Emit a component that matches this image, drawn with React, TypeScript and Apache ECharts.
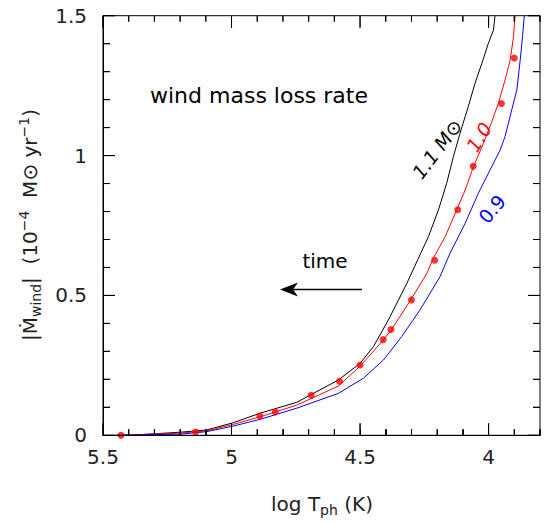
import React, { useEffect, useRef } from "react";
import * as echarts from "echarts";

// log T_ph (K) and |Mdot_wind| (1e-4 Msun/yr)
const blackX = [5.45, 5.38, 5.2, 5.097, 4.993, 4.889, 4.746, 4.584, 4.5, 4.448, 4.39, 4.318, 4.273, 4.234, 4.195, 4.163, 4.137, 4.111, 4.079, 4.053, 4.026, 4.001, 3.981, 3.975];
const blackY = [0, 0.001, 0.011, 0.019, 0.045, 0.079, 0.118, 0.198, 0.257, 0.317, 0.412, 0.543, 0.633, 0.71, 0.806, 0.901, 0.996, 1.08, 1.175, 1.258, 1.33, 1.401, 1.449, 1.5];

const redX = [5.43, 5.2, 5.097, 4.993, 4.889, 4.746, 4.584, 4.496, 4.409, 4.377, 4.303, 4.24, 4.215, 4.169, 4.124, 4.091, 4.059, 4.02, 3.99, 3.962, 3.936, 3.916, 3.903, 3.897];
const redY = [0, 0.008, 0.016, 0.039, 0.066, 0.108, 0.176, 0.251, 0.341, 0.379, 0.484, 0.579, 0.633, 0.71, 0.806, 0.877, 0.96, 1.044, 1.115, 1.187, 1.27, 1.342, 1.425, 1.5];

const blueX = [5.45, 5.2, 5.097, 4.993, 4.889, 4.746, 4.584, 4.487, 4.409, 4.338, 4.267, 4.189, 4.15, 4.091, 4.04, 3.994, 3.955, 3.936, 3.91, 3.89, 3.877, 3.868, 3.861];
const blueY = [0, 0.004, 0.013, 0.033, 0.057, 0.097, 0.15, 0.204, 0.269, 0.353, 0.448, 0.567, 0.651, 0.758, 0.865, 0.949, 1.02, 1.068, 1.163, 1.235, 1.342, 1.425, 1.5];

const dotX = [5.43, 5.14, 4.89, 4.83, 4.69, 4.58, 4.5, 4.41, 4.38, 4.3, 4.21, 4.12, 4.06, 3.95, 3.9];
const dotY = [0.0, 0.012, 0.069, 0.083, 0.143, 0.193, 0.251, 0.342, 0.378, 0.484, 0.626, 0.806, 0.962, 1.186, 1.349];

// axis ticks
const xTicks = [3.8, 3.9, 4.0, 4.1, 4.2, 4.3, 4.4, 4.5, 4.6, 4.7, 4.8, 4.9, 5.0, 5.1, 5.2, 5.3, 5.4, 5.5];
const xMajor = [4.0, 4.5, 5.0, 5.5];
const yTicks = [0, 0.1, 0.2, 0.3, 0.4, 0.5, 0.6, 0.7, 0.8, 0.9, 1.0, 1.1, 1.2, 1.3, 1.4, 1.5];
const yMajor = [0, 0.5, 1.0, 1.5];

const X_MIN = 3.8;
const X_MAX = 5.5;
const Y_MIN = 0;
const Y_MAX = 1.5;

const FONT = "DejaVu Sans";
const INK = "#222";

const zip = (xs: number[], ys: number[]) => xs.map((x, i) => [x, ys[i]]);
const majorFmt = (v: number) => {
  const r = Math.round(v * 10);
  return r % 5 === 0 ? String(r / 10) : "";
};
const isMajor = (v: number, majors: number[]) => majors.some((m) => Math.abs(m - v) < 1e-6);

const centered = { align: "center", verticalAlign: "middle" };

const annotations: any[] = [
  {
    type: "text", x: 259, y: 95,
    style: { text: "wind mass loss rate", fill: "#000", fontFamily: FONT, fontSize: 22, ...centered },
  },
  {
    type: "text", x: 325, y: 261,
    style: { text: "time", fill: "#000", fontFamily: FONT, fontSize: 20, ...centered },
  },
  {
    type: "line", shape: { x1: 362, y1: 289.5, x2: 292, y2: 289.5 },
    style: { stroke: "#000", lineWidth: 1.4 },
  },
  {
    type: "polygon", shape: { points: [[280, 289.5], [298, 282.5], [293, 289.5], [298, 296.5]] },
    style: { fill: "#000" },
  },
  {
    type: "text", x: 437, y: 149, rotation: (53 * Math.PI) / 180,
    style: { text: "1.1 M\u2299", fill: "#000", fontFamily: FONT, fontSize: 19, fontStyle: "italic", ...centered },
  },
  {
    type: "text", x: 479, y: 137, rotation: (58 * Math.PI) / 180,
    style: { text: "1.0", fill: "#ff0000", fontFamily: FONT, fontSize: 19, fontStyle: "italic", ...centered },
  },
  {
    type: "text", x: 492, y: 209, rotation: (50 * Math.PI) / 180,
    style: { text: "0.9", fill: "#0000ff", fontFamily: FONT, fontSize: 19, ...centered },
  },
  {
    type: "text", x: 30, y: 225, rotation: Math.PI / 2,
    style: {
      text: "{a|\u007C\u1E40}{sub|wind}{a|\u007C  (10}{sup|\u22124}{a|  M\u2299 yr}{sup|\u22121}{a|)}",
      fill: INK, fontFamily: FONT, fontSize: 20, ...centered,
      rich: {
        a: { fontFamily: FONT, fontSize: 20, fill: INK, color: INK, verticalAlign: "middle" },
        sub: { fontFamily: FONT, fontSize: 14, fill: INK, color: INK, verticalAlign: "middle", padding: [12, 0, 0, 0] },
        sup: { fontFamily: FONT, fontSize: 14, fill: INK, color: INK, verticalAlign: "middle", padding: [0, 0, 12, 0] },
      },
    },
  },
  {
    type: "text", x: 322, y: 504,
    style: {
      text: "{a|log T}{sub|ph}{a| (K)}",
      fill: INK, fontFamily: FONT, fontSize: 20, ...centered,
      rich: {
        a: { fontFamily: FONT, fontSize: 20, fill: INK, color: INK, verticalAlign: "middle" },
        sub: { fontFamily: FONT, fontSize: 14, fill: INK, color: INK, verticalAlign: "middle", padding: [12, 0, 0, 0] },
      },
    },
  },
];

export default function App() {
  const ref = useRef<HTMLDivElement>(null);
  useEffect(() => {
    if (!ref.current) return;
    const chart = echarts.init(ref.current, null, { renderer: "svg" });
    chart.setOption({
      animation: false,
      grid: { left: 103, top: 15.7, right: 7, bottom: 87.7, outerBoundsMode: "none", containLabel: false },
      xAxis: {
        type: "value", min: X_MIN, max: X_MAX, inverse: true, interval: 0.1,
        splitLine: { show: false },
        axisLine: { show: true, onZero: false, lineStyle: { color: "#000", width: 1 } },
        axisTick: { show: true, inside: true, length: 6, lineStyle: { color: "#000", width: 1 } },
        axisLabel: { show: true, margin: 12, fontFamily: FONT, fontSize: 20, color: INK, formatter: majorFmt },
      },
      yAxis: {
        type: "value", min: Y_MIN, max: Y_MAX, interval: 0.1,
        splitLine: { show: false },
        axisLine: { show: true, onZero: false, lineStyle: { color: "#000", width: 1 } },
        axisTick: { show: true, inside: true, length: 7, lineStyle: { color: "#000", width: 1 } },
        axisLabel: { show: true, margin: 16, fontFamily: FONT, fontSize: 20, color: INK, formatter: majorFmt },
      },
      series: [
        {
          type: "line", name: "1.1", data: zip(blackX, blackY), showSymbol: false, symbol: "none",
          lineStyle: { color: "#000", width: 1 }, itemStyle: { color: "#000" }, z: 3,
        },
        {
          type: "line", name: "1.0", data: zip(redX, redY), showSymbol: false, symbol: "none",
          lineStyle: { color: "#ff0000", width: 1 }, itemStyle: { color: "#ff0000" }, z: 3,
        },
        {
          type: "line", name: "0.9", data: zip(blueX, blueY), showSymbol: false, symbol: "none",
          lineStyle: { color: "#0000ff", width: 1 }, itemStyle: { color: "#0000ff" }, z: 3,
        },
        {
          type: "scatter", name: "dots", data: zip(dotX, dotY), symbol: "circle", symbolSize: 7,
          itemStyle: { color: "#ff0000" }, z: 4,
        },
      ],
    });

    // Frame with tick marks, drawn as four long "comb" polylines placed through the axes' scales
    const px = (v: number) => chart.convertToPixel({ xAxisIndex: 0 }, v) as number;
    const py = (v: number) => chart.convertToPixel({ yAxisIndex: 0 }, v) as number;
    const left = px(X_MAX);
    const right = px(X_MIN);
    const top = py(Y_MAX);
    const bottom = py(Y_MIN);

    const xs = xTicks.map((v) => ({ p: px(v), len: isMajor(v, xMajor) ? 12 : 6 })).sort((a, b) => a.p - b.p);
    const ys = yTicks.map((v) => ({ p: py(v), len: isMajor(v, yMajor) ? 12 : 7 })).sort((a, b) => a.p - b.p);

    const comb = (edge: "bottom" | "top" | "left" | "right") => {
      const pts: number[][] = [];
      if (edge === "bottom" || edge === "top") {
        const base = edge === "bottom" ? bottom : top;
        const dir = edge === "bottom" ? -1 : 1;
        pts.push([left, base]);
        xs.forEach(({ p, len }) => {
          pts.push([p, base], [p, base + dir * len], [p, base]);
        });
        pts.push([right, base]);
      } else {
        const base = edge === "left" ? left : right;
        const dir = edge === "left" ? 1 : -1;
        pts.push([base, top]);
        ys.forEach(({ p, len }) => {
          pts.push([base, p], [base + dir * len, p], [base, p]);
        });
        pts.push([base, bottom]);
      }
      return {
        type: "polyline",
        z: 20,
        shape: { points: pts },
        style: { stroke: "#000", lineWidth: 1, fill: null },
      };
    };

    chart.setOption({
      graphic: [comb("bottom"), comb("top"), comb("left"), comb("right"), ...annotations],
    });
    return () => chart.dispose();
  }, []);
  return (
    <div
      ref={ref}
      style={{ position: "fixed", left: 0, top: 0, width: 547, height: 523, background: "#fff" }}
    />
  );
}
